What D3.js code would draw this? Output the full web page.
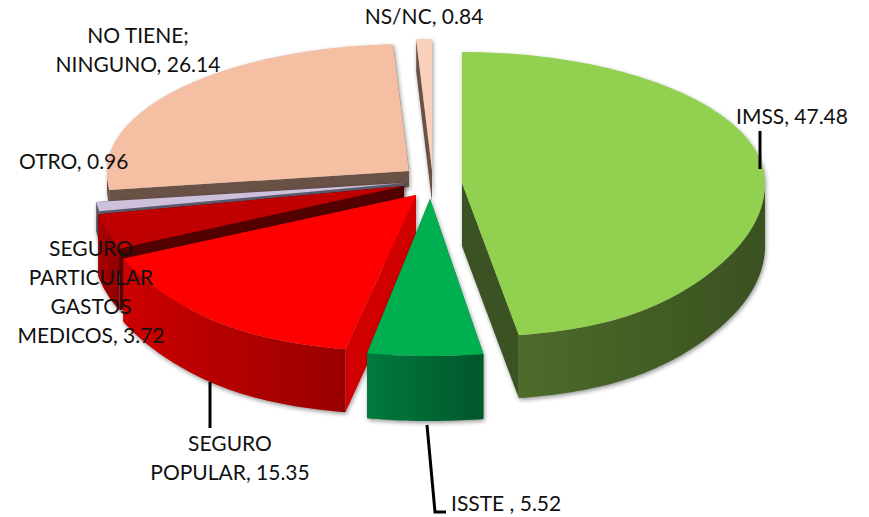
<!DOCTYPE html>
<html>
<head>
<meta charset="utf-8">
<script src="https://cdn.jsdelivr.net/npm/d3@7/dist/d3.min.js"></script>
<style>
html,body{margin:0;padding:0;background:#fff;overflow:hidden}
svg{display:block}
text{font-family:Lato,"Open Sans",sans-serif;font-size:21px;fill:#111}
.slice{filter:drop-shadow(1px 2px 2px rgba(0,0,0,.4))}
</style>
</head>
<body>
<svg id="chart" width="869" height="517"></svg>
<script>
// ---- data ----
const categories = ["IMSS", "ISSTE ", "SEGURO POPULAR", "SEGURO PARTICULAR GASTOS MEDICOS", "OTRO", "NO TIENE; NINGUNO", "NS/NC"];
const values = [47.48, 5.52, 15.35, 3.72, 0.96, 26.14, 0.84];
const labelLines = [["IMSS"], ["ISSTE "], ["SEGURO", "POPULAR"], ["SEGURO", "PARTICULAR", "GASTOS", "MEDICOS"], ["OTRO"], ["NO TIENE;", "NINGUNO"], ["NS/NC"]];
const topColors = ["#92d050", "#00b050", "#ff0000", "#c00000", "#ccc0da", "#f4bfa3", "#f8d0bb"];
const cutColors = ["#3b5323", "#006b35", "#d00000", "#520000", "#5e5a6e", "#6a5145", "#6a5145"];
const wallColors = [["#4d6c2a", "#3a5120"], ["#007a3d", "#00572a"], ["#cc0000", "#990000"], ["#a80000", "#900000"], ["#5e5a6e", "#5e5a6e"], ["#6a5145", "#6a5145"], ["#6a5145", "#6a5145"]];

// ---- layout of the exploded 3D pie ----
const layout = [
  {cx: 462, cy: 183, rx: 303, depth: 63, order: 4, top: 131, front: 154},
  {cx: 430, cy: 199, rx: 285, depth: 65, order: 6, top: 131, front: 157},
  {cx: 416, cy: 195, rx: 320, depth: 63, order: 5, top: 131, front: 157},
  {cx: 404, cy: 186, rx: 311, depth: 62, order: 3, top: 131, front: 154},
  {cx: 404, cy: 183, rx: 310, depth: 30, order: 2, top: 131, front: 154},
  {cx: 409, cy: 171, rx: 302, depth: 16, order: 0, top: 127, front: 154},
  {cx: 432, cy: 170, rx: 300, depth: 32, order: 1, top: 131, front: 154}
];
const labelPos = [
  {x: 736, y: 124, anchor: "start"},
  {x: 451, y: 511, anchor: "start"},
  {x: 230, y: 451, anchor: "middle"},
  {x: 91,  y: 256, anchor: "middle"},
  {x: 19,  y: 169, anchor: "start"},
  {x: 138, y: 43,  anchor: "middle"},
  {x: 424, y: 24,  anchor: "middle"}
];
const leaders = [
  [[760, 131], [760, 169]],
  [[427, 425], [435, 512], [446, 512]],
  [[210, 382], [210, 428]]
];

const svg = d3.select("#chart");
const defs = svg.append("defs");
const arcs = d3.pie().sort(null).value(d => d)(values);
const line = d3.line();

function project(a, l, dz) {
  const c = -Math.cos(a);                          // 1 at the front of the pie
  const widen = 1 + 0.2 * Math.pow(Math.max(c, 0), 6);
  const ry = c > 0 ? l.front : l.top;
  return [l.cx + l.rx * widen * Math.sin(a), l.cy + ry * c + (dz || 0)];
}
const rim = (a0, a1, l, dz) => {
  const n = Math.max(2, Math.ceil((a1 - a0) * 60));
  return d3.range(n + 1).map(i => project(a0 + (a1 - a0) * i / n, l, dz));
};

const order = d3.range(values.length).sort((a, b) => layout[a].order - layout[b].order);
order.forEach(i => {
  const arc = arcs[i], l = layout[i];
  const g = svg.append("g").attr("class", "slice");
  const apex = [l.cx, l.cy], apexLow = [l.cx, l.cy + l.depth];

  // cut walls
  [arc.startAngle, arc.endAngle].forEach(a => {
    g.append("path")
      .attr("d", line([apex, apexLow, project(a, l, l.depth), project(a, l)]) + "Z")
      .attr("fill", cutColors[i]);
  });

  // outer wall: only the part that faces the viewer
  const w0 = Math.max(arc.startAngle, Math.PI / 2), w1 = Math.min(arc.endAngle, Math.PI * 1.5);
  if (w1 > w0) {
    const upper = rim(w0, w1, l), lower = rim(w0, w1, l, l.depth).reverse();
    const xs = upper.map(p => p[0]);
    const id = "wall" + i;
    const grad = defs.append("linearGradient").attr("id", id)
      .attr("gradientUnits", "userSpaceOnUse")
      .attr("x1", d3.min(xs)).attr("x2", d3.max(xs)).attr("y1", 0).attr("y2", 0);
    grad.append("stop").attr("offset", 0).attr("stop-color", wallColors[i][0]);
    grad.append("stop").attr("offset", 1).attr("stop-color", wallColors[i][1]);
    g.append("path").attr("d", line(upper.concat(lower)) + "Z").attr("fill", `url(#${id})`);
  }

  // top face
  g.append("path")
    .attr("d", line([apex].concat(rim(arc.startAngle, arc.endAngle, l))) + "Z")
    .attr("fill", topColors[i]);
});

// leader lines
svg.append("g").selectAll("path").data(leaders).join("path")
  .attr("d", d => line(d)).attr("fill", "none").attr("stroke", "#000").attr("stroke-width", 3);

// labels
const lineH = 29;
labelLines.forEach((lines, i) => {
  const p = labelPos[i];
  const t = svg.append("text").attr("text-anchor", p.anchor);
  lines.forEach((s, j) => {
    t.append("tspan").attr("x", p.x).attr("y", p.y + j * lineH)
      .text(j === lines.length - 1 ? `${s}, ${values[i]}` : s);
  });
});
</script>
</body>
</html>
